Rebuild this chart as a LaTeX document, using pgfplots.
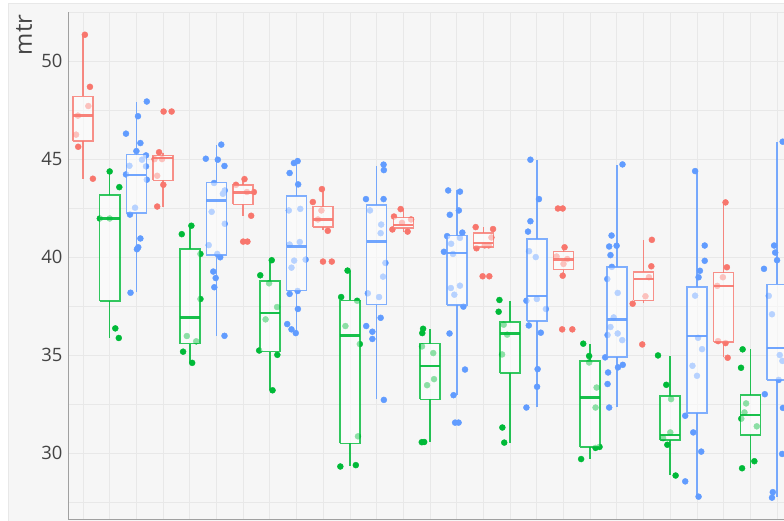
\documentclass[border=0pt]{standalone}
\usepackage{pgfplots}
\pgfplotsset{compat=1.18}
\usepackage{fontspec}
\setmainfont{Open Sans}
\definecolor{cR}{HTML}{F8766D}
\definecolor{cG}{HTML}{00BA38}
\definecolor{cB}{HTML}{619CFF}
\definecolor{bg}{HTML}{F6F6F6}
\definecolor{gridc}{HTML}{E8E8E8}
\definecolor{txt}{HTML}{444444}
\definecolor{axc}{HTML}{A0A0A0}
% box: colour, position, lower whisker, q1, median, q3, upper whisker
\newcommand{\bx}[7]{%
  \pgfmathsetmacro\xl{#2-0.375}\pgfmathsetmacro\xr{#2+0.375}%
  \addplot[draw=#1, draw opacity=0.85, line width=1.6bp] coordinates {(#2,#3) (#2,#4)};
  \addplot[draw=#1, draw opacity=0.85, line width=1.6bp] coordinates {(#2,#6) (#2,#7)};
  \addplot[draw=#1, draw opacity=0.8, fill=white, fill opacity=0.55, line width=1.6bp, line join=miter]
    coordinates {(\xl,#4) (\xr,#4) (\xr,#6) (\xl,#6) (\xl,#4)};
  \addplot[draw=#1, draw opacity=0.9, line width=2.4bp] coordinates {(\xl,#5) (\xr,#5)};
}
\begin{document}
\begin{tikzpicture}
\useasboundingbox (0bp,0bp) rectangle (784bp,521bp);
\fill[white] (0bp,0bp) rectangle (784bp,521bp);
\fill[bg] (8bp,0bp) rectangle (784bp,518bp);
\draw[gridc, line width=0.8bp] (8bp,0bp) -- (8bp,518bp) -- (784bp,518bp);
\begin{axis}[
    at={(68bp,2bp)}, anchor=south west,
    scale only axis, width=716bp, height=507bp,
    xmin=-0.562, xmax=26.26,
    ymin=26.63, ymax=52.51,
    clip mode=individual,
    axis x line*=bottom, axis y line*=left,
    axis line style={axc, line width=0.8bp},
    xtick={0,...,26}, xticklabels={},
    ytick={30,35,40,45,50},
    minor ytick={27.5,32.5,37.5,42.5,47.5,52.5},
    grid=both,
    major grid style={draw=gridc, line width=0.8bp},
    minor grid style={draw=gridc, line width=0.8bp},
    major tick length=0pt, minor tick length=0pt,
    yticklabel style={font=\fontsize{18.5}{20}\selectfont, text=txt, xshift=-2bp},
    /pgf/number format/assume math mode=true,
]
% jittered points, one series per colour
\addplot[only marks, mark=*, mark size=3bp, color=cR] coordinates {
 (0.07,51.35) (0.26,48.69) (0.2,47.71) (-0.19,47.22) (-0.26,46.25) (-0.18,45.63) (0.37,44.0)
 (3.02,47.43) (3.32,47.43) (2.85,45.35) (2.68,45.0) (2.96,45.0) (2.78,44.15) (3.01,43.69) (2.78,42.58)
 (6.05,43.98) (5.73,43.69) (6.4,43.32) (6.14,43.32) (6.3,42.11) (6.0,40.79) (6.16,40.79)
 (8.95,43.47) (8.61,42.81) (8.93,42.38) (8.8,41.92) (9.17,41.34) (8.99,39.77) (9.32,39.77)
 (11.9,42.45) (11.65,42.07) (12.29,41.92) (11.95,41.75) (11.59,41.41) (12.16,41.3)
 (14.71,41.53) (15.36,41.43) (15.3,41.0) (14.74,40.45) (15.05,40.6) (15.2,40.6) (14.97,39.02) (15.22,39.02)
 (17.79,42.48) (17.97,42.48) (18.04,40.5) (17.74,40.03) (18.14,39.9) (18.0,39.65) (17.97,39.05) (17.95,36.31) (18.33,36.31)
 (21.31,40.88) (21.29,39.53) (21.2,38.97) (21.07,38.0) (20.59,37.62) (20.95,35.54)
 (24.07,42.79) (24.12,39.48) (23.97,38.97) (23.76,38.53) (23.79,35.71) (24.07,35.61) (24.15,34.86)
};
\addplot[only marks, mark=*, mark size=3bp, color=cG] coordinates {
 (1.0,44.37) (1.36,43.57) (0.63,41.97) (1.0,41.97) (1.21,36.36) (1.34,35.87)
 (4.06,41.6) (3.7,41.17) (4.4,40.16) (4.4,37.86) (3.89,35.97) (4.24,35.7) (3.75,35.17) (4.09,34.6)
 (7.07,39.84) (6.64,39.07) (6.97,38.66) (7.27,37.45) (6.84,36.82) (6.6,35.23) (7.28,35.01) (7.1,33.2)
 (9.91,39.31) (9.67,37.96) (10.27,37.77) (9.83,36.48) (10.37,35.56) (10.3,30.85) (9.64,29.31) (10.22,29.38)
 (12.74,36.34) (12.71,36.12) (12.7,35.44) (13.12,35.1) (13.15,33.77) (12.89,33.46) (12.69,30.55) (12.78,30.56)
 (15.6,37.81) (15.57,37.21) (15.76,36.55) (15.89,36.04) (15.7,35.03) (15.71,31.3) (15.78,30.53)
 (18.74,35.58) (18.96,34.95) (18.96,34.62) (19.24,33.34) (19.2,32.32) (19.2,30.26) (19.35,30.31) (18.66,29.69)
 (21.54,34.98) (21.85,33.48) (22.03,32.75) (22.0,31.05) (21.73,30.76) (21.89,30.42) (22.2,28.85)
 (24.71,35.29) (24.65,34.35) (24.84,32.53) (24.78,32.07) (24.66,31.75) (25.24,31.36) (25.15,29.58) (24.69,29.22)
};
\addplot[only marks, mark=*, mark size=3bp, color=cB] coordinates {
 (2.39,47.94) (2.06,47.19) (1.61,46.3) (2.15,45.82) (2.0,45.41) (2.36,45.19) (1.74,44.66) (2.21,44.97) (2.36,44.63)
 (1.61,44.22) (2.39,43.95) (1.95,42.52) (1.76,42.17) (2.15,40.95) (2.07,40.5) (2.02,40.4) (1.78,38.18)
 (5.18,45.74) (4.6,45.02) (5.05,44.97) (5.3,44.65) (4.91,43.78) (5.24,43.23) (5.31,43.4) (4.82,42.31)
 (5.31,41.7) (4.71,40.61) (5.03,40.16) (5.14,39.99) (4.88,39.26) (4.97,38.93) (4.92,38.46) (5.3,35.98)
 (8.04,44.9) (7.9,44.8) (7.74,44.29) (8.06,43.71) (8.14,42.46) (7.71,42.38) (8.12,40.77) (7.74,40.64) (8.34,39.87)
 (7.91,39.82) (7.81,39.46) (8.04,38.27) (7.74,38.12) (8.05,37.35) (7.65,36.58) (7.81,36.31) (7.97,36.12)
 (11.26,44.72) (11.27,44.44) (11.26,42.96) (10.6,42.96) (10.75,42.38) (11.17,41.66) (11.15,41.22) (11.33,39.7)
 (11.24,39.0) (10.67,38.15) (11.09,37.96) (11.15,36.9) (10.61,36.48) (10.84,36.19) (10.84,35.82) (11.27,32.71)
 (13.68,43.4) (14.12,43.34) (13.74,42.16) (14.08,42.38) (14.21,41.25) (13.64,41.07) (13.79,40.68) (14.12,40.98)
 (13.52,40.27) (13.86,40.16) (13.78,38.42) (14.12,38.54) (13.91,38.08) (14.25,37.47) (13.73,36.1) (14.31,34.26)
 (13.88,32.95) (13.94,31.55) (14.07,31.55)
 (16.76,44.97) (17.08,42.96) (16.76,41.83) (16.67,41.3) (16.71,40.3) (16.96,40.0) (17.0,37.86) (16.61,37.77)
 (17.34,37.35) (16.7,36.51) (17.15,36.14) (17.03,34.28) (17.01,33.38) (16.61,32.32)
 (20.21,44.73) (19.8,41.1) (19.71,40.54) (19.99,40.58) (19.76,40.1) (19.81,39.5) (19.64,38.88) (20.03,38.17)
 (19.88,36.92) (19.76,36.43) (19.65,36.02) (20.03,36.1) (20.2,35.76) (19.56,34.88) (20.04,34.37) (20.22,34.5)
 (19.67,34.11) (19.65,33.52) (19.71,32.32)
 (22.93,44.39) (23.29,40.59) (23.29,39.81) (23.11,39.3) (23.06,38.97) (22.93,38.03) (23.04,35.88) (23.19,35.3)
 (22.83,34.45) (23.0,33.94) (22.56,31.9) (22.86,31.05) (23.16,30.07) (22.56,28.55) (23.06,27.77)
 (26.21,45.89) (25.89,40.59) (25.93,40.23) (26.0,39.84) (25.51,39.4) (25.69,38.02) (25.81,37.08) (26.1,35.0)
 (26.2,34.7) (26.06,33.73) (25.54,33.0) (26.22,32.3) (26.19,29.95) (25.84,28.0) (25.81,27.72)
};
% boxes on top of the points
\bx{cR}{0}{44.0}{45.94}{47.22}{48.2}{51.35}
\bx{cG}{1}{35.87}{37.76}{41.97}{43.18}{44.37}
\bx{cB}{2}{38.2}{42.24}{44.2}{45.23}{47.92}
\bx{cR}{3}{42.58}{43.91}{45.06}{45.18}{45.31}
\bx{cG}{4}{34.6}{35.58}{36.92}{40.42}{41.6}
\bx{cB}{5}{35.98}{40.1}{42.89}{43.81}{45.7}
\bx{cR}{6}{42.12}{42.69}{43.3}{43.68}{43.98}
\bx{cG}{7}{33.2}{35.18}{37.14}{38.78}{39.84}
\bx{cB}{8}{36.12}{38.29}{40.54}{43.11}{44.94}
\bx{cR}{9}{41.36}{41.54}{41.92}{42.58}{43.47}
\bx{cG}{10}{29.33}{30.49}{36.0}{37.79}{39.31}
\bx{cB}{11}{32.74}{37.57}{40.79}{42.67}{44.65}
\bx{cR}{12}{41.3}{41.47}{41.63}{42.02}{42.45}
\bx{cG}{13}{30.56}{32.74}{34.44}{35.58}{36.31}
\bx{cB}{14}{32.95}{37.55}{40.21}{41.1}{43.4}
\bx{cR}{15}{40.48}{40.5}{40.71}{41.24}{41.53}
\bx{cG}{16}{30.53}{34.08}{36.09}{36.7}{37.77}
\bx{cB}{17}{32.35}{36.75}{38.0}{40.93}{44.97}
\bx{cR}{18}{39.05}{39.36}{39.87}{40.28}{40.5}
\bx{cG}{19}{29.69}{30.32}{32.83}{34.71}{35.56}
\bx{cB}{20}{32.34}{34.89}{36.82}{39.5}{44.7}
\bx{cR}{21}{37.64}{37.79}{38.87}{39.24}{40.88}
\bx{cG}{22}{28.87}{30.65}{30.92}{32.92}{34.96}
\bx{cB}{23}{27.77}{32.03}{35.98}{38.48}{44.39}
\bx{cR}{24}{34.88}{35.68}{38.51}{39.21}{42.79}
\bx{cG}{25}{29.23}{30.92}{31.93}{32.97}{35.29}
\bx{cB}{26}{27.77}{33.73}{35.37}{38.61}{45.89}
\end{axis}
\node[rotate=90, text=txt, font=\fontsize{24}{28}\selectfont] at (24bp,486bp) {mtr};
\end{tikzpicture}
\end{document}
